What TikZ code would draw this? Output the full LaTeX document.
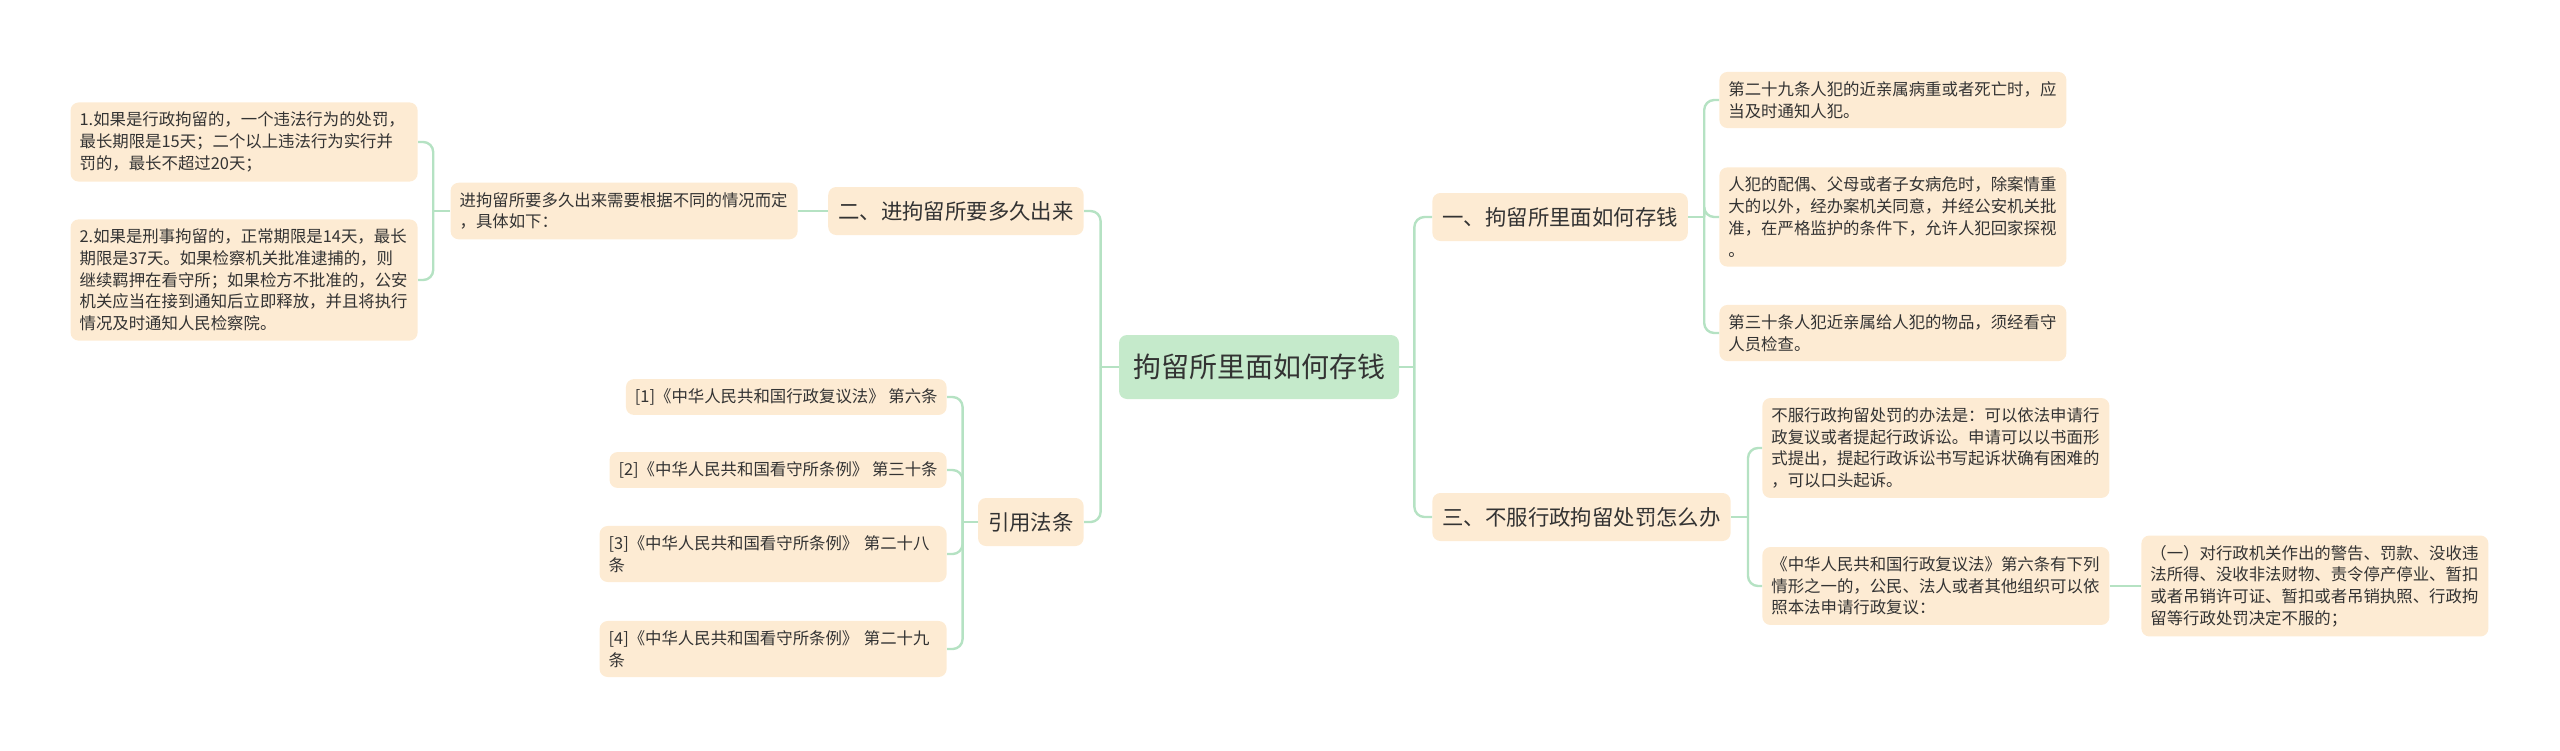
\documentclass[tikz,border=0pt]{standalone}
\usepackage{fontspec}
\setmainfont{Noto Sans CJK SC}
\usepackage{xcolor}
\usepackage{tikz}
\definecolor{leafbg}{HTML}{FDEBD3}
\definecolor{rootbg}{HTML}{C5EACB}
\definecolor{connc}{HTML}{B5E2C3}
\definecolor{ink}{HTML}{333333}
\newcommand{\leaffont}{\fontsize{8.2}{10.85}\selectfont}
\newcommand{\midfont}{\fontsize{10.7}{13}\selectfont}
\newcommand{\rootfont}{\fontsize{14}{17}\selectfont}

\begin{document}
\begin{tikzpicture}[x=0.5pt, y=-0.5pt,
  leaf/.style={fill=leafbg, text=ink, rounded corners=4pt, inner xsep=4.5pt, inner ysep=4.8pt, align=left, font=\leaffont},
  leafw/.style={leaf, text width=164.5pt},
  topic/.style={fill=leafbg, text=ink, rounded corners=4pt, inner xsep=5pt, minimum height=24pt, font=\midfont},
  rootbox/.style={fill=rootbg, text=ink, rounded corners=4pt, inner xsep=7pt, minimum height=32pt, font=\rootfont},
  conn/.style={draw=connc, line width=1.2pt, rounded corners=5pt}]
\useasboundingbox (0,0) rectangle (2560,750);

% centre and the four topics
\node[rootbox] (root) at (1259,367) {拘留所里面如何存钱};
\node[topic, anchor=east] (two) at (1084,211) {二、进拘留所要多久出来};
\node[topic, anchor=east] (cite) at (1084,522) {引用法条};
\node[topic, anchor=west] (one) at (1432,217) {一、拘留所里面如何存钱};
\node[topic, anchor=west] (three) at (1432,517) {三、不服行政拘留处罚怎么办};

% left side
\node[leafw, anchor=east] (intro) at (798,211) {进拘留所要多久出来需要根据不同的情况而定\\，具体如下：};
\node[leafw, anchor=east] (l1) at (418,142) {1.如果是行政拘留的，一个违法行为的处罚，\\最长期限是15天；二个以上违法行为实行并\\罚的，最长不超过20天；};
\node[leafw, anchor=east] (l2) at (418,280) {2.如果是刑事拘留的，正常期限是14天，最长\\期限是37天。如果检察机关批准逮捕的，则\\继续羁押在看守所；如果检方不批准的，公安\\机关应当在接到通知后立即释放，并且将执行\\情况及时通知人民检察院。};
\node[leaf, anchor=east] (r1) at (947,397) {[1]《中华人民共和国行政复议法》 第六条};
\node[leaf, anchor=east] (r2) at (947,470) {[2]《中华人民共和国看守所条例》 第三十条};
\node[leafw, anchor=east] (r3) at (947,554) {[3]《中华人民共和国看守所条例》 第二十八\\条};
\node[leafw, anchor=east] (r4) at (947,649) {[4]《中华人民共和国看守所条例》 第二十九\\条};

% right side
\node[leafw, anchor=west] (c1) at (1719,100) {第二十九条人犯的近亲属病重或者死亡时，应\\当及时通知人犯。};
\node[leafw, anchor=west] (c2) at (1719,217) {人犯的配偶、父母或者子女病危时，除案情重\\大的以外，经办案机关同意，并经公安机关批\\准，在严格监护的条件下，允许人犯回家探视\\。};
\node[leafw, anchor=west] (c3) at (1719,333) {第三十条人犯近亲属给人犯的物品，须经看守\\人员检查。};
\node[leafw, anchor=west] (d1) at (1762,448) {不服行政拘留处罚的办法是：可以依法申请行\\政复议或者提起行政诉讼。申请可以以书面形\\式提出，提起行政诉讼书写起诉状确有困难的\\，可以口头起诉。};
\node[leafw, anchor=west] (d2) at (1762,586) {《中华人民共和国行政复议法》第六条有下列\\情形之一的，公民、法人或者其他组织可以依\\照本法申请行政复议：};
\node[leafw, anchor=west] (g1) at (2141,586) {（一）对行政机关作出的警告、罚款、没收违\\法所得、没收非法财物、责令停产停业、暂扣\\或者吊销许可证、暂扣或者吊销执照、行政拘\\留等行政处罚决定不服的；};

% connectors
\draw[conn] (root.west) -- ++(-18,0) coordinate (lt);
\foreach \n in {two,cite} \draw[conn] (lt) |- (\n.east);
\draw[conn] (root.east) -- ++(15,0) coordinate (rt);
\foreach \n in {one,three} \draw[conn] (rt) |- (\n.west);

\draw[conn] (two.west) -- (intro.east);
\draw[conn] (intro.west) -- ++(-17,0) coordinate (it);
\foreach \n in {l1,l2} \draw[conn] (it) |- (\n.east);
\draw[conn] (cite.west) -- ++(-15,0) coordinate (ct);
\foreach \n in {r1,r2,r3,r4} \draw[conn] (ct) |- (\n.east);

\draw[conn] (one.east) -- ++(16,0) coordinate (ot);
\foreach \n in {c1,c2,c3} \draw[conn] (ot) |- (\n.west);
\draw[conn] (three.east) -- ++(17,0) coordinate (tt);
\foreach \n in {d1,d2} \draw[conn] (tt) |- (\n.west);
\draw[conn] (d2.east) -- (g1.west);

\end{tikzpicture}
\end{document}
